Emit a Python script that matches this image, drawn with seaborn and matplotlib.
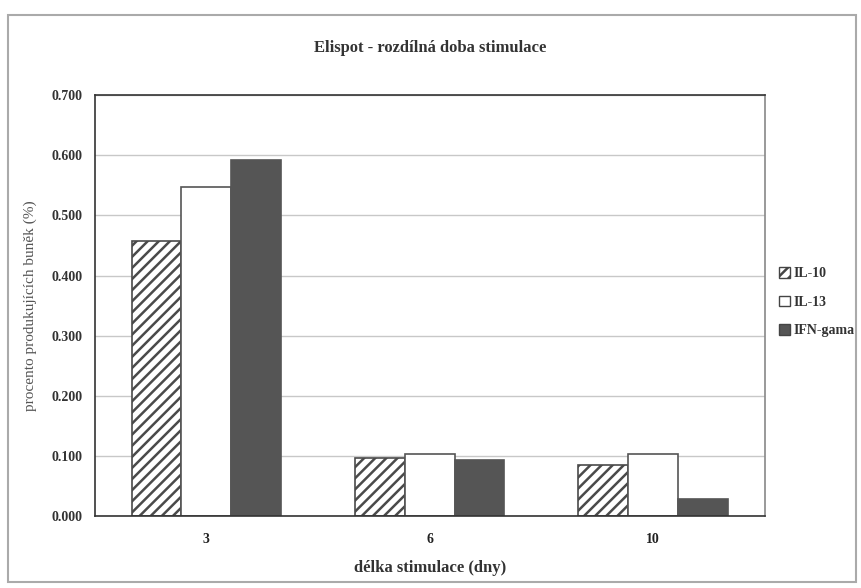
import matplotlib
matplotlib.use("Agg")
import matplotlib.pyplot as plt
import seaborn as sns
import pandas as pd
from matplotlib.patches import Patch, Rectangle

days = ["3", "6", "10"]
series = ["IL-10", "IL-13", "IFN-gama"]
il10 = [0.458, 0.096, 0.085]
il13 = [0.548, 0.104, 0.103]
ifng = [0.592, 0.094, 0.028]
yticks = [0.0, 0.1, 0.2, 0.3, 0.4, 0.5, 0.6, 0.7]

df = pd.DataFrame({
    "day": days * 3,
    "cytokine": [s for s in series for _ in days],
    "value": il10 + il13 + ifng,
})

sns.set_theme(style="white")
plt.rcParams["font.family"] = ["Liberation Serif", "DejaVu Serif"]
plt.rcParams["hatch.linewidth"] = 1.8

fig = plt.figure(figsize=(8.61, 5.88), dpi=100)
ax = fig.add_axes([0.110, 0.1224, 0.778, 0.7156])

styles = {
    "IL-10": dict(facecolor="white", edgecolor="#4a4a4a", hatch="///"),
    "IL-13": dict(facecolor="white", edgecolor="#555555", hatch=None),
    "IFN-gama": dict(facecolor="#555555", edgecolor="#555555", hatch=None),
}

sns.barplot(data=df, x="day", y="value", hue="cytokine", order=days,
            hue_order=series, width=0.67, ax=ax, legend=False,
            palette=["white", "white", "#555555"], saturation=1)

for cont, name in zip(ax.containers, series):
    st = styles[name]
    for p in cont:
        p.set_facecolor(st["facecolor"])
        p.set_edgecolor(st["edgecolor"])
        p.set_linewidth(1.2)
        if st["hatch"]:
            p.set_hatch(st["hatch"])

ax.set_ylim(0, 0.7)
ax.set_xlim(-0.5, 2.5)
ax.set_yticks(yticks)
ax.set_yticklabels([f"{v:.3f}" for v in yticks], fontsize=10, fontweight="bold",
                   color="#333333")
ax.yaxis.grid(True, color="#c8c8c8", linewidth=1)
ax.set_axisbelow(True)

ax.set_xticks([-0.5, 0.5, 1.5, 2.5])
ax.set_xticklabels([])
ax.set_xticks([0, 1, 2], minor=True)
ax.set_xticklabels(days, minor=True, fontsize=10, fontweight="bold", color="#222222")
ax.tick_params(axis="x", which="major", direction="out", length=5, color="#333333")
ax.tick_params(axis="x", which="minor", length=0, pad=12)
ax.tick_params(axis="y", direction="out", length=5, color="#333333", pad=4)

for s in ax.spines.values():
    s.set_visible(True)
    s.set_color("#333333")
    s.set_linewidth(1.2)
ax.spines["right"].set_color("#888888")

ax.set_xlabel("délka stimulace (dny)", fontsize=12, fontweight="bold",
              color="#333333", labelpad=10)
ax.set_ylabel("procento produkujících buněk (%)", fontsize=11,
              color="#555555", labelpad=10)

fig.text(0.50, 0.918, "Elispot - rozdílná doba stimulace", ha="center",
         va="center", fontsize=12, fontweight="bold", color="#333333")

handles = [Patch(facecolor=styles[n]["facecolor"], edgecolor="#444444",
                 hatch=styles[n]["hatch"], label=n) for n in series]
leg = fig.legend(handles=handles, loc="upper left", bbox_to_anchor=(0.898, 0.555),
                 frameon=False, fontsize=10, handlelength=0.8, handleheight=0.8,
                 handletextpad=0.3, labelspacing=1.1, borderaxespad=0)
for t in leg.get_texts():
    t.set_fontweight("bold")
    t.set_color("#333333")

fig.patches.append(Rectangle((8 / 861, 6 / 588), 848 / 861, 567 / 588,
                             transform=fig.transFigure, fill=False,
                             edgecolor="#aaaaaa", linewidth=1.5))

fig.savefig("out.png", dpi=100)
